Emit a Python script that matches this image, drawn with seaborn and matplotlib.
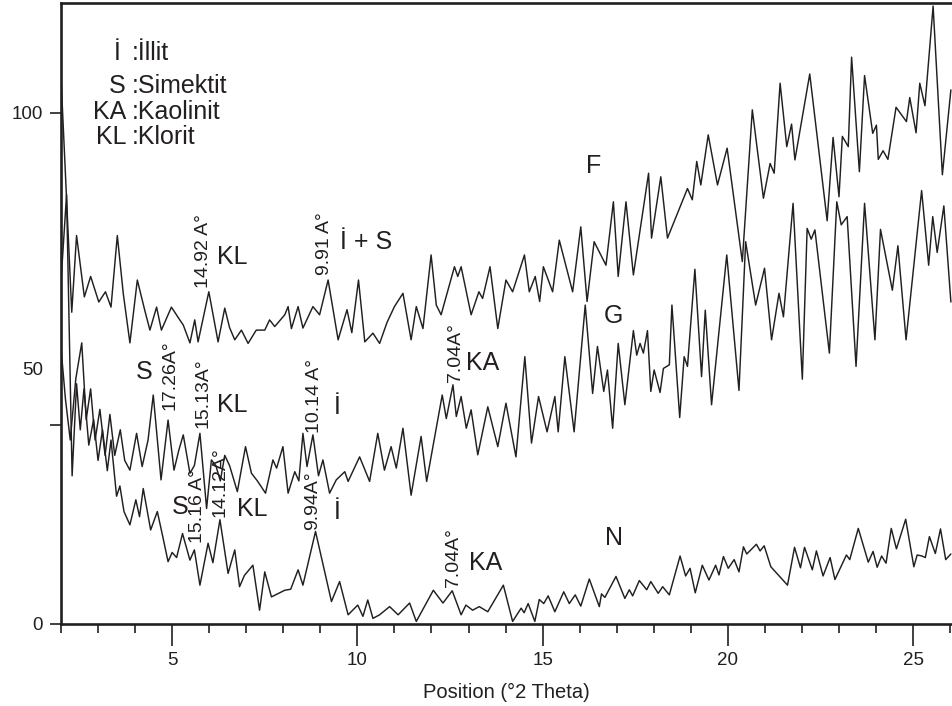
import matplotlib
matplotlib.use("Agg")
import matplotlib.pyplot as plt
import seaborn as sns
import pandas as pd
from matplotlib.ticker import MultipleLocator, FixedLocator

# ---------------- data ----------------
f_x = [2.0, 2.29, 2.42, 2.63, 2.80, 3.02, 3.2, 3.35, 3.52, 3.68, 3.86, 4.06, 4.26, 4.4, 4.58,
       4.71, 4.98, 5.16, 5.3, 5.48, 5.61, 5.70, 5.99, 6.24, 6.42, 6.55, 6.69, 6.87, 7.05, 7.27,
       7.5, 7.63, 7.77, 8.04, 8.13, 8.22, 8.4, 8.53, 8.8, 8.98, 9.21, 9.48, 9.72, 9.85, 10.03,
       10.2, 10.42, 10.6, 10.8, 11.0, 11.23, 11.45, 11.59, 11.77, 11.99, 12.13, 12.26, 12.62,
       12.71, 12.8, 13.07, 13.28, 13.38, 13.58, 13.79, 14.01, 14.19, 14.51, 14.64, 14.8, 14.92,
       15.02, 15.27, 15.45, 15.81, 16.03, 16.2, 16.39, 16.71, 16.91, 17.04, 17.25, 17.45, 17.86,
       17.94, 18.19, 18.37, 18.91, 19.04, 19.16, 19.27, 19.47, 19.72, 19.98, 20.39, 20.66, 20.96,
       21.14, 21.25, 21.41, 21.59, 21.72, 21.81, 22.21, 22.68, 22.84, 23.0, 23.09, 23.25, 23.34,
       23.55, 23.69, 23.91, 24.01, 24.06, 24.19, 24.32, 24.54, 24.82, 24.91, 25.08, 25.18, 25.32,
       25.54, 25.79, 26.02]
f_y = [107, 61, 76, 64, 68, 63, 65, 62, 76, 64.7, 55, 67.3, 61.4, 57.5, 62,
       57.5, 62, 60, 58.5, 55, 59.5, 55.2, 65, 55.2, 61.8, 58, 55.6, 57.5, 54.9, 57.5,
       57.5, 59.5, 58.2, 60.5, 62.1, 57.8, 62.1, 57.9, 62.1, 60.5, 67.3, 55.6, 61.5, 57, 67.3,
       55.2, 56.9, 54.9, 59, 62.1, 64.7, 55.6, 62.1, 57.8, 72.2, 62.4, 60.5, 69.9,
       68, 69.9, 60.5, 65, 63.7, 69.9, 57.8, 67.3, 65, 72.2, 65, 68, 63.1,
       69.9, 65, 75.1, 65, 77.7, 63.1, 74.8, 70.2, 82.6, 68, 82.6, 68.3, 88.2,
       75.5, 87.5, 75.5, 85.2, 83, 90.5, 85.9, 95.7, 85.9, 93.1, 70.9, 100.6, 83.3,
       90.1, 88.2, 105.8, 93.4, 97.8, 90.8, 107.6, 78.9, 95.2, 83.6, 95.4, 93.4, 110.9,
       88.5, 107.3, 96, 97.6, 90.9, 92.6, 90.9, 101.1, 98.3, 103, 96.1, 105.8, 101.4,
       120.9, 87.9, 104.5]

g_x = [2.0, 2.12, 2.25, 2.4, 2.56, 2.68, 2.8, 2.92, 3.05, 3.19, 3.32, 3.45, 3.6, 3.72, 3.86,
       4.04, 4.19, 4.35, 4.49, 4.7, 4.89, 5.05, 5.18, 5.3, 5.48, 5.6, 5.75, 5.93, 6.06, 6.18,
       6.3, 6.42, 6.55, 6.76, 6.98, 7.14, 7.3, 7.52, 7.72, 7.82, 7.99, 8.13, 8.31, 8.42, 8.53,
       8.64, 8.8, 8.95, 9.07, 9.25, 9.43, 9.66, 9.75, 10.06, 10.33, 10.55, 10.73, 10.91, 11.05,
       11.23, 11.45, 11.72, 11.87, 12.29, 12.4, 12.58, 12.67, 12.8, 12.94, 13.07, 13.25, 13.52,
       13.79, 14.01, 14.28, 14.52, 14.7, 14.89, 15.12, 15.33, 15.42, 15.6, 15.85, 16.15, 16.35,
       16.48, 16.65, 16.75, 16.89, 17.04, 17.22, 17.45, 17.54, 17.63, 17.72, 17.83, 17.92, 18.01,
       18.17, 18.26, 18.42, 18.49, 18.7, 18.82, 18.91, 19.11, 19.29, 19.39, 19.56, 19.97, 20.3,
       20.48, 20.75, 20.99, 21.18, 21.38, 21.5, 21.76, 22.01, 22.14, 22.25, 22.35, 22.74, 22.94,
       23.06, 23.22, 23.46, 23.69, 23.97, 24.12, 24.44, 24.59, 24.81, 25.23, 25.42, 25.53, 25.65,
       25.83, 26.02]
g_y = [54, 44, 36, 48, 55, 40, 46, 36, 42, 33, 41, 33, 38, 32, 30.1,
       37.3, 30.8, 36, 44.8, 28.2, 39.9, 30.1, 34, 37, 29.5, 31, 37.3, 22.6, 32.1, 31,
       28, 33, 31, 25.9, 34.7, 29.5, 28, 25.6, 32.1, 30.5, 34.7, 25.6, 29.8, 28, 37.3,
       30.8, 37, 29, 32.1, 25.6, 28.2, 29.8, 27.9, 32.7, 27.9, 37.3, 30.1, 34.7, 30.5,
       38.3, 25.2, 36.7, 27.9, 44.8, 40.2, 46.8, 40.6, 44.5, 38.3, 41.9, 33.1, 42.5,
       34.7, 43.2, 32.7, 52.3, 35.4, 44.5, 37.6, 44.5, 37.6, 52.3, 37.6, 62.4, 45.1,
       54.3, 45.5, 49.7, 38.3, 54.9, 42.9, 57.4, 52.6, 54.9, 53, 57.4, 45.5, 49.7,
       45.3, 50, 50.7, 62.4, 40.4, 52.3, 50.4, 69.4, 48.4, 61.4, 42.9, 72.2, 45.7,
       74.8, 62.4, 69.6, 55.6, 64.7, 60.1, 82.3, 47.9, 77.4, 75.3, 77.1, 53, 82.6,
       78.1, 79.7, 50.4, 82.3, 55.6, 77.2, 65.3, 74, 55.6, 84.8, 70.2, 79.7, 72.7,
       81.8, 63]

n_x = [2.0, 2.15, 2.3, 2.42, 2.52, 2.62, 2.75, 2.88, 3.0, 3.12, 3.25, 3.35, 3.5, 3.59, 3.7,
       3.86, 4.02, 4.12, 4.22, 4.42, 4.6, 4.75, 4.89, 5.0, 5.12, 5.28, 5.48, 5.6, 5.75, 5.97,
       6.1, 6.29, 6.51, 6.69, 6.82, 6.95, 7.18, 7.36, 7.5, 7.68, 8.04, 8.2, 8.4, 8.53, 8.87,
       9.3, 9.52, 9.75, 10.01, 10.15, 10.28, 10.42, 10.6, 10.87, 11.1, 11.41, 11.59, 12.05,
       12.31, 12.56, 12.8, 12.93, 13.11, 13.29, 13.52, 13.94, 14.19, 14.42, 14.5, 14.61, 14.79,
       14.91, 15.03, 15.15, 15.33, 15.57, 15.72, 15.88, 16.03, 16.26, 16.53, 16.59, 16.68, 16.98,
       17.22, 17.34, 17.43, 17.61, 17.81, 17.92, 18.12, 18.24, 18.42, 18.71, 18.86, 18.98, 19.12,
       19.31, 19.49, 19.67, 19.76, 19.88, 20.01, 20.17, 20.3, 20.42, 20.51, 20.77, 20.87, 20.98,
       21.16, 21.61, 21.8, 21.96, 22.07, 22.28, 22.39, 22.57, 22.76, 22.89, 23.2, 23.29, 23.52,
       23.79, 23.92, 24.03, 24.15, 24.27, 24.41, 24.55, 24.8, 25.02, 25.11, 25.24, 25.33, 25.44,
       25.6, 25.74, 25.88, 26.02]
n_y = [67, 84, 29, 47, 38, 46, 35, 40, 32, 38, 30, 36, 25, 27, 22,
       19.4, 24.3, 21, 26.5, 18.4, 22, 17, 12.2, 14, 13, 17.7, 12.5, 14.5, 7.6, 15.8,
       12, 20.4, 9.9, 14.5, 7.3, 9.5, 11.5, 2.7, 10.2, 5.3, 6.6, 6.8, 10.6, 7.6, 18.1,
       4.4, 8.3, 1.8, 3.7, 1.5, 4.7, 1.1, 1.8, 3.4, 1.8, 4.1, 0.5, 6.6,
       4.1, 6.5, 1.8, 3.7, 2.7, 3.4, 2.4, 7.6, 0.5, 3.1, 2.2, 4.0, 0.5,
       4.8, 4.0, 5.5, 2.4, 6.3, 4.0, 5.7, 3.5, 8.8, 3.4, 5.9, 5.2, 9.3,
       5.0, 6.7, 5.5, 8.5, 6.7, 8.3, 6.0, 7.3, 5.7, 13.3, 9.4, 10.9, 6.1,
       11.5, 8.6, 11.5, 9.6, 13.2, 10.9, 12.6, 10.2, 15.1, 13.7, 15.6, 14.3, 15.3,
       11.2, 7.6, 15.0, 11.0, 15.0, 10.6, 14.3, 9.4, 13.0, 8.7, 13.5, 12.6, 18.7,
       12.1, 14.2, 11.1, 13.3, 11.9, 18.7, 14.7, 20.5, 11.2, 13.5, 13.3, 13.0, 17.1,
       13.8, 18.6, 12.6, 13.7]

y_ticks = [0, 50, 100]
y_tick_labels = ["0", "50", "100"]
x_major = [5, 10, 15, 20, 25]

# ---------------- figure ----------------
sns.set_theme(style="white")
plt.rcParams['font.family'] = ['Liberation Sans', 'DejaVu Sans']

W, H = 952, 706
fig = plt.figure(figsize=(W / 100, H / 100), dpi=100)
ax = fig.add_axes([61 / W, 1 - 624 / H, (W - 61) / W, (624 - 3) / H])

df = pd.concat([
    pd.DataFrame({"x": f_x, "y": f_y, "series": "F"}),
    pd.DataFrame({"x": g_x, "y": g_y, "series": "G"}),
    pd.DataFrame({"x": n_x, "y": n_y, "series": "N"}),
], ignore_index=True)

ink = "#231f20"
sns.lineplot(data=df, x="x", y="y", hue="series", estimator=None, sort=False,
             palette={"F": ink, "G": ink, "N": ink}, linewidth=1.05, legend=False, ax=ax)

ax.set_xlim(2, 26.05)
ax.set_ylim(0, 121.5)

# spines
for s in ["left", "bottom", "top"]:
    ax.spines[s].set_visible(True)
    ax.spines[s].set_linewidth(1.9)
    ax.spines[s].set_color(ink)
ax.spines["right"].set_visible(False)

# x ticks
ax.xaxis.set_major_locator(FixedLocator(x_major))
ax.xaxis.set_minor_locator(MultipleLocator(1))
ax.set_xticklabels([str(v) for v in x_major])
ax.tick_params(axis="x", which="major", direction="out", length=16, width=1.2,
               color=ink, labelsize=13.5, pad=4, labelcolor=ink, bottom=True)
ax.tick_params(axis="x", which="minor", direction="out", length=6.5, width=1.2,
               color=ink, bottom=True)

# y ticks
ax.set_yticks(y_ticks)
ax.set_yticklabels(y_tick_labels)
ax.yaxis.set_minor_locator(FixedLocator([39]))
ax.tick_params(axis="y", which="major", direction="out", length=8, width=1.2,
               color=ink, labelsize=13.5, pad=5, labelcolor=ink, left=True)
ax.tick_params(axis="y", which="minor", direction="out", length=8, width=1.2,
               color=ink, left=True)
ax.yaxis.get_major_ticks()[1].tick1line.set_visible(False)

ax.set_xlabel("Position (\u00b02 Theta)", fontsize=14.5, color=ink, labelpad=10)
ax.set_ylabel("")
ax.grid(False)

# legend block
lab_fs = 18
keys = ["\u0130", "S", "KA", "KL"]
key_x = [3.60, 3.75, 3.77, 3.77]
vals = [":\u0130llit", ":Simektit", ":Kaolinit", ":Klorit"]
ys = [111.7, 105.3, 100.2, 95.3]
for k, kx, v, yy in zip(keys, key_x, vals, ys):
    ax.text(kx, yy, k, ha="right", va="center", fontsize=lab_fs, color=ink)
    ax.text(3.91, yy, v, ha="left", va="center", fontsize=lab_fs, color=ink)

# peak annotations (rotated d-spacings)
rot_fs = 14
peaks = [
    (5.85, 65.8, "14.92 A\u00b0"),
    (9.12, 68.3, "9.91 A\u00b0"),
    (4.94, 41.9, "17.26A\u00b0"),
    (5.84, 38.4, "15.13A\u00b0"),
    (8.85, 37.4, "10.14 A\u00b0"),
    (12.65, 47.4, "7.04A\u00b0"),
    (5.68, 15.9, "15.16 A\u00b0"),
    (6.29, 20.9, "14.12A\u00b0"),
    (8.80, 18.4, "9.94A\u00b0"),
    (12.60, 7.2, "7.04A\u00b0"),
]
for px, py, t in peaks:
    ax.text(px, py, t, rotation=90, ha="center", va="bottom", fontsize=rot_fs, color=ink)

# mineral labels
minerals = [
    (6.20, 71.8, "KL", "left"),
    (9.52, 74.7, "\u0130 + S", "left"),
    (4.25, 49.4, "S", "center"),
    (6.20, 42.9, "KL", "left"),
    (9.45, 42.5, "\u0130", "center"),
    (12.94, 51.1, "KA", "left"),
    (5.21, 22.9, "S", "center"),
    (6.74, 22.5, "KL", "left"),
    (9.45, 21.9, "\u0130", "center"),
    (13.02, 11.9, "KA", "left"),
    (16.38, 89.6, "F", "center"),
    (16.90, 60.3, "G", "center"),
    (16.93, 16.8, "N", "center"),
]
for px, py, t, ha in minerals:
    ax.text(px, py, t, ha=ha, va="center", fontsize=lab_fs, color=ink)

fig.savefig("out.png", dpi=100)
